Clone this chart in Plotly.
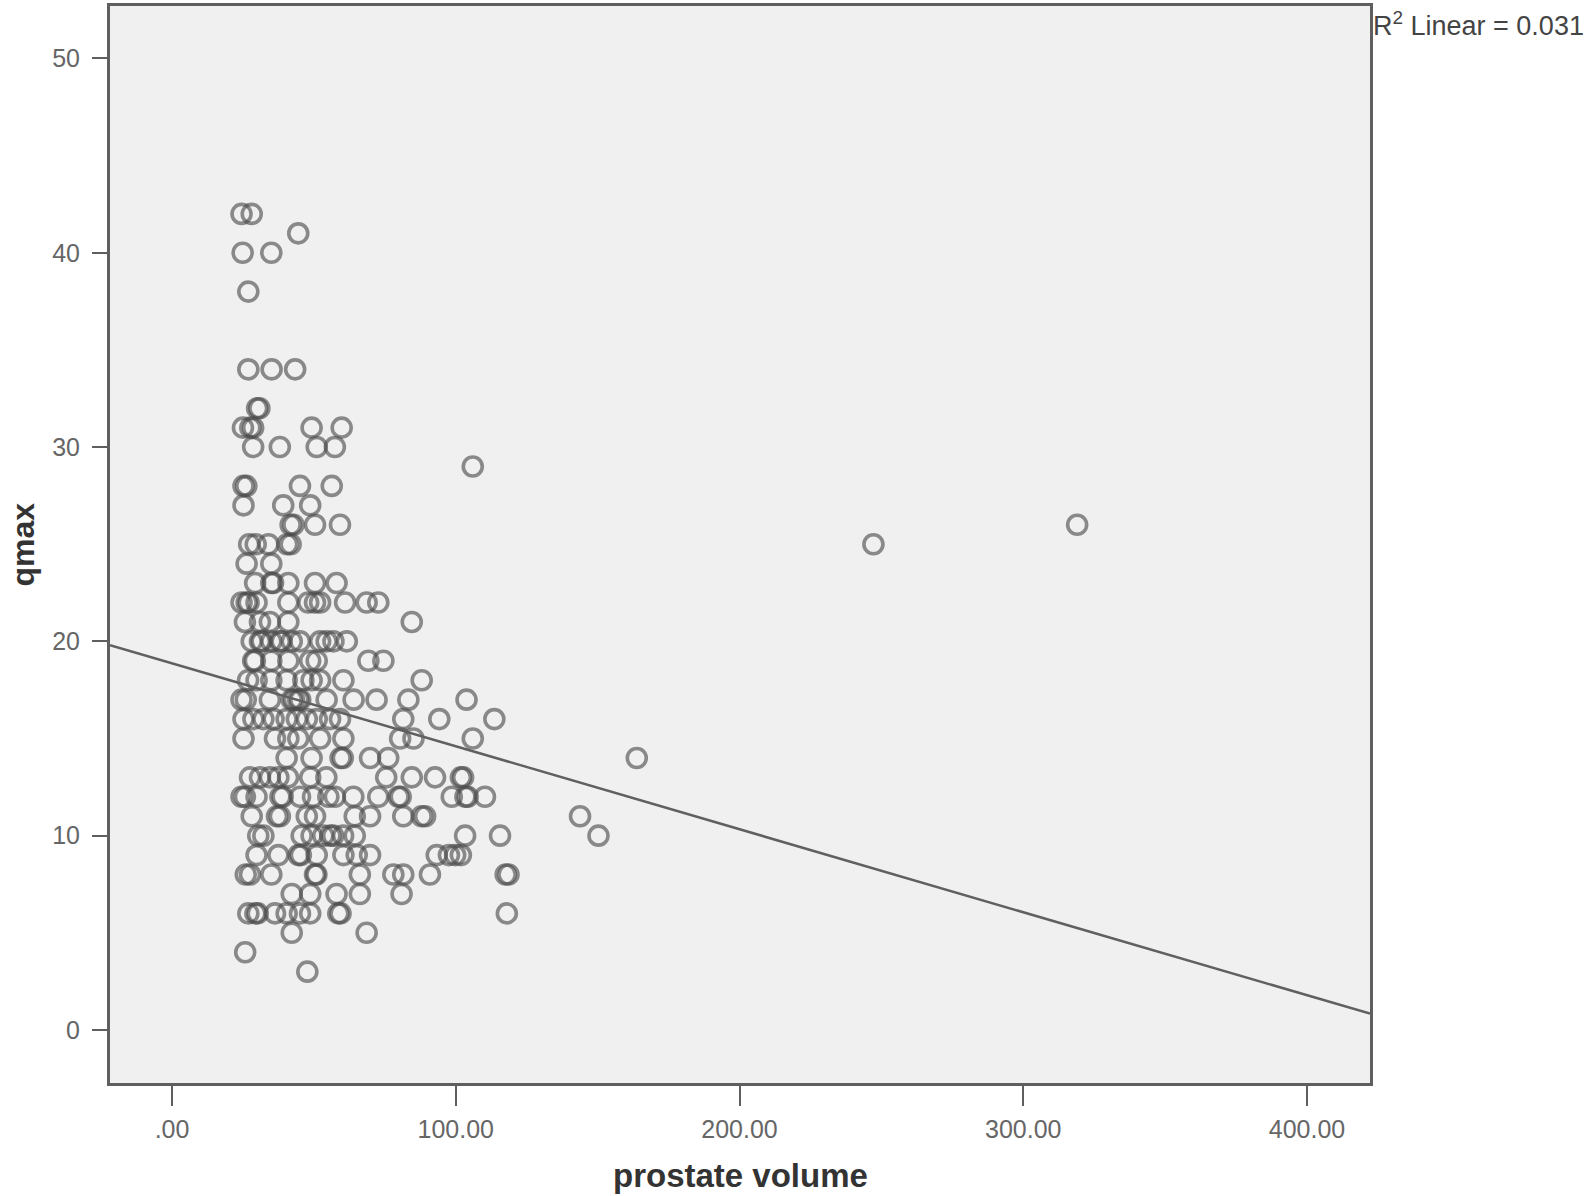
import plotly.graph_objects as go

# ---- data (prostate volume vs qmax) ----
prostate_volume = [
    24.5, 28.1,                                                   # 42
    44.5,                                                         # 41
    24.9, 35.0,                                                   # 40
    26.9,                                                         # 38
    26.9, 35.1, 43.4,                                             # 34
    30.0, 30.8,                                                   # 32
    25.0, 27.6, 28.6, 49.2, 59.8,                                 # 31
    28.6, 38.0, 51.0, 57.4,                                       # 30
    106.0,                                                        # 29
    25.2, 26.2, 45.1, 56.3,                                       # 28
    25.2, 39.2, 48.7,                                             # 27
    41.8, 42.8, 50.4, 59.2, 319.0,                                # 26
    27.2, 29.5, 34.0, 40.6, 41.8, 247.2,                          # 25
    26.3, 35.0,                                                   # 24
    29.3, 35.0, 35.6, 41.0, 50.4, 58.0,                           # 23
    24.5, 26.3, 27.0, 29.8, 41.0, 48.0, 50.4, 52.2, 61.0, 68.6, 72.7,   # 22
    25.7, 31.0, 34.5, 41.0, 84.5,                                 # 21
    28.1, 31.0, 31.6, 35.0, 38.0, 38.6, 42.2, 45.1, 52.2, 54.5, 56.9, 61.6,  # 20
    28.6, 29.2, 35.0, 41.0, 48.7, 51.0, 69.2, 74.5,               # 19
    26.8, 29.8, 35.0, 40.4, 46.3, 49.2, 52.2, 60.4, 88.0,         # 18
    24.5, 26.0, 34.5, 42.2, 43.0, 44.5, 45.2, 54.5, 64.0, 72.1, 83.3, 103.8,  # 17
    25.2, 28.7, 32.2, 35.8, 40.4, 44.0, 47.5, 51.0, 55.7, 59.2, 81.5, 94.2, 113.6,  # 16
    25.2, 36.3, 41.0, 44.5, 52.2, 60.4, 80.4, 85.1, 106.0,        # 15
    40.4, 49.2, 59.4, 60.2, 69.8, 76.2, 163.8,                    # 14
    27.5, 31.0, 34.5, 37.5, 40.9, 48.7, 54.4, 75.5, 84.5, 92.7, 101.8, 102.6,  # 13
    24.5, 25.7, 29.8, 38.2, 39.0, 45.1, 49.7, 55.1, 57.4, 63.9, 72.7, 79.8, 80.6,
    98.6, 103.4, 104.2, 110.3,                                    # 12
    28.1, 37.0, 38.0, 47.5, 50.4, 64.4, 69.8, 81.5, 88.0, 89.2, 143.8,  # 11
    30.4, 32.2, 45.7, 49.2, 53.3, 55.8, 56.8, 60.3, 64.4, 103.3, 115.6, 150.3,  # 10
    29.8, 37.5, 44.6, 45.4, 51.0, 60.4, 65.1, 69.8, 93.3, 97.6, 99.8, 101.8,  # 9
    26.0, 27.5, 35.0, 50.4, 50.9, 66.2, 78.0, 81.5, 90.9, 117.6, 118.6,  # 8
    42.2, 48.7, 58.0, 66.2, 80.9,                                 # 7
    26.9, 29.4, 30.2, 36.3, 40.4, 45.1, 48.7, 58.6, 59.4, 118.0,  # 6
    42.2, 68.6,                                                   # 5
    25.8,                                                         # 4
    47.7,                                                         # 3
]

qmax = [
    42, 42,
    41,
    40, 40,
    38,
    34, 34, 34,
    32, 32,
    31, 31, 31, 31, 31,
    30, 30, 30, 30,
    29,
    28, 28, 28, 28,
    27, 27, 27,
    26, 26, 26, 26, 26,
    25, 25, 25, 25, 25, 25,
    24, 24,
    23, 23, 23, 23, 23, 23,
    22, 22, 22, 22, 22, 22, 22, 22, 22, 22, 22,
    21, 21, 21, 21, 21,
    20, 20, 20, 20, 20, 20, 20, 20, 20, 20, 20, 20,
    19, 19, 19, 19, 19, 19, 19, 19,
    18, 18, 18, 18, 18, 18, 18, 18, 18,
    17, 17, 17, 17, 17, 17, 17, 17, 17, 17, 17, 17,
    16, 16, 16, 16, 16, 16, 16, 16, 16, 16, 16, 16, 16,
    15, 15, 15, 15, 15, 15, 15, 15, 15,
    14, 14, 14, 14, 14, 14, 14,
    13, 13, 13, 13, 13, 13, 13, 13, 13, 13, 13, 13,
    12, 12, 12, 12, 12, 12, 12, 12, 12, 12, 12, 12, 12,
    12, 12, 12, 12,
    11, 11, 11, 11, 11, 11, 11, 11, 11, 11, 11,
    10, 10, 10, 10, 10, 10, 10, 10, 10, 10, 10, 10,
    9, 9, 9, 9, 9, 9, 9, 9, 9, 9, 9, 9,
    8, 8, 8, 8, 8, 8, 8, 8, 8, 8, 8,
    7, 7, 7, 7, 7,
    6, 6, 6, 6, 6, 6, 6, 6, 6, 6,
    5, 5,
    4,
    3,
]

assert len(prostate_volume) == len(qmax)

x_tick_values = [0, 100, 200, 300, 400]
x_tick_labels = [".00", "100.00", "200.00", "300.00", "400.00"]
y_tick_values = [0, 10, 20, 30, 40, 50]
y_tick_labels = ["0", "10", "20", "30", "40", "50"]

x_range = [-21.85, 422.2]
y_range = [-2.73, 52.7]

# linear fit line as shown in the reference
fit_intercept = 18.87
fit_slope = -0.0427
r2_text = "R<sup>2</sup> Linear = 0.031"

fit_x = x_range
fit_y = [fit_intercept + fit_slope * v for v in fit_x]

fig = go.Figure()
fig.add_trace(go.Scatter(
    x=prostate_volume, y=qmax, mode="markers",
    marker=dict(symbol="circle-open", size=19, color="rgba(75,75,75,0.62)",
                line=dict(width=3.6, color="rgba(75,75,75,0.62)")),
    showlegend=False, hoverinfo="x+y",
))
fig.add_trace(go.Scatter(
    x=fit_x, y=fit_y, mode="lines",
    line=dict(color="#606060", width=2.5),
    showlegend=False, hoverinfo="skip",
))

axis_font = dict(family="Liberation Sans, Arial, sans-serif", size=25, color="#666666")

fig.update_layout(
    width=1594, height=1196,
    margin=dict(l=110, r=224, t=3, b=113),
    paper_bgcolor="white",
    plot_bgcolor="#f0f0f0",
    xaxis=dict(
        range=x_range, tickvals=x_tick_values, ticktext=x_tick_labels,
        showgrid=False, zeroline=False, showline=True, mirror=True,
        linecolor="#5f5f5f", linewidth=3, ticks="outside", ticklen=20,
        tickwidth=2, tickcolor="#5f5f5f", tickfont=axis_font,
        ticklabelstandoff=2,
    ),
    yaxis=dict(
        range=y_range, tickvals=y_tick_values, ticktext=y_tick_labels,
        showgrid=False, zeroline=False, showline=True, mirror=True,
        linecolor="#5f5f5f", linewidth=3, ticks="outside", ticklen=15,
        tickwidth=2, tickcolor="#5f5f5f", tickfont=axis_font,
        ticklabelstandoff=7,
    ),
    annotations=[
        dict(text="<b>prostate volume</b>", xref="paper", yref="paper",
             x=0.5, y=0, yanchor="middle", xanchor="center", yshift=-92,
             showarrow=False,
             font=dict(family="Liberation Sans, Arial, sans-serif", size=33, color="#333333")),
        dict(text="<b>qmax</b>", xref="paper", yref="paper",
             x=0, y=0.5, xanchor="center", yanchor="middle", xshift=-88,
             textangle=-90, showarrow=False,
             font=dict(family="Liberation Sans, Arial, sans-serif", size=32, color="#333333")),
        dict(text=r2_text, xref="paper", yref="paper",
             x=1, y=1, xanchor="left", yanchor="middle", xshift=1, yshift=-18,
             showarrow=False,
             font=dict(family="Liberation Sans, Arial, sans-serif", size=27, color="#444444")),
    ],
)

fig.write_html("out.html", config={"displayModeBar": False},
               post_script="document.body.style.margin='0px';document.body.style.overflow='hidden';")
